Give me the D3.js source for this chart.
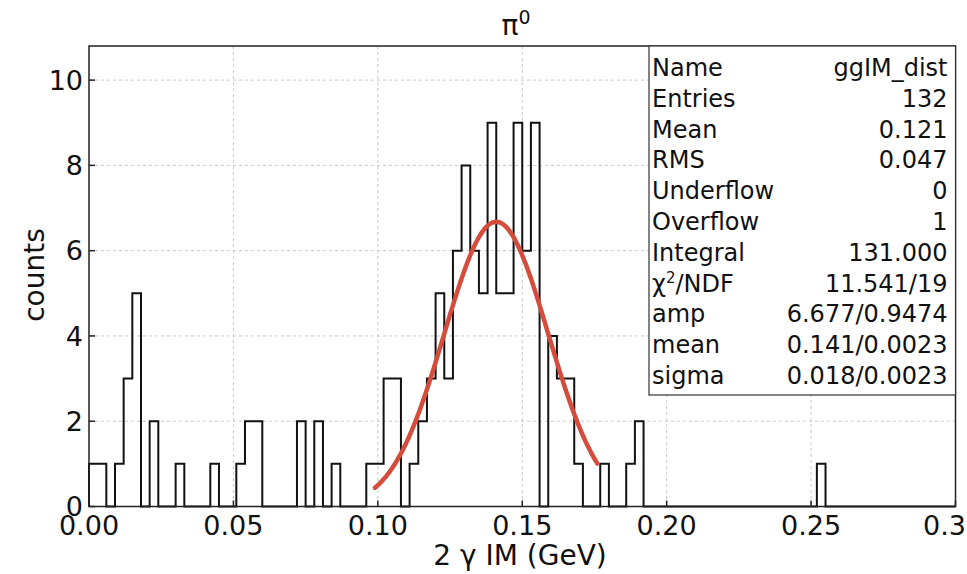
<!DOCTYPE html>
<html lang="en">
<head>
<meta charset="UTF-8">
<title>pi0 invariant mass</title>
<style>
  body { margin: 0; background: #fff; }
  text { font-family: "DejaVu Sans", sans-serif; fill: #111; }
</style>
</head>
<body>
<svg id="chart" width="967" height="574"></svg>

<script src="https://d3js.org/d3.v7.min.js"></script>
<script>
// histogram: 100 bins from 0 to 0.3
var histLo = 0, histHi = 0.3;
var counts = [
  1,1,0,1,3,5,0,2,0,0,
  1,0,0,0,1,0,0,1,2,2,
  0,0,0,0,2,0,2,0,1,0,
  0,0,1,1,3,3,0,1,2,3,
  5,3,6,8,6,5,9,5,5,9,
  6,9,0,4,3,3,1,0,0,1,
  0,0,1,2,0,0,0,0,0,0,
  0,0,0,0,0,0,0,0,0,0,
  0,0,0,0,1,0,0,0,0,0,
  0,0,0,0,0,0,0,0,0,0
];

var xTicks = [0, 0.05, 0.10, 0.15, 0.20, 0.25, 0.3];
var xTickLabels = ["0.00", "0.05", "0.10", "0.15", "0.20", "0.25", "0.3"];
var yTicks = [0, 2, 4, 6, 8, 10];

// gaussian fit
var fitAmp = 6.677, fitMean = 0.141, fitSigma = 0.018;
var fitRange = [0.099, 0.176];

var statNames = ["Name", "Entries", "Mean", "RMS", "Underflow", "Overflow",
  "Integral", "χ", "amp", "mean", "sigma"];
var statValues = ["ggIM_dist", "132", "0.121", "0.047", "0", "1",
  "131.000", "11.541/19", "6.677/0.9474", "0.141/0.0023", "0.018/0.0023"];

var svg = d3.select("#chart"),
  W = +svg.attr("width"),
  H = +svg.attr("height"),
  pL = 89, pR = 955.5, pT = 46, pB = 506.5;

var x = d3.scaleLinear().domain([histLo, histHi]).range([pL, pR]);
var y = d3.scaleLinear().domain([0, 10.8]).range([pB, pT]);

// grid
svg.append("g").selectAll("line")
  .data(xTicks.slice(1, -1)).enter().append("line")
  .attr("x1", function (d) { return x(d); }).attr("x2", function (d) { return x(d); })
  .attr("y1", pT).attr("y2", pB)
  .attr("stroke", "#c8c8c8").attr("stroke-dasharray", "3,3");
svg.append("g").selectAll("line")
  .data(yTicks.slice(1)).enter().append("line")
  .attr("x1", pL).attr("x2", pR)
  .attr("y1", function (d) { return y(d); }).attr("y2", function (d) { return y(d); })
  .attr("stroke", "#c8c8c8").attr("stroke-dasharray", "3,3");

// histogram outline
var bw = (histHi - histLo) / counts.length;
var pts = [[histLo, 0]];
counts.forEach(function (c, i) {
  pts.push([histLo + i * bw, c]);
  pts.push([histLo + (i + 1) * bw, c]);
});
pts.push([histHi, 0]);
var line = d3.line().x(function (d) { return x(d[0]); }).y(function (d) { return y(d[1]); });
svg.append("path").attr("d", line(pts))
  .attr("fill", "none").attr("stroke", "#111").attr("stroke-width", 2);

// fit curve
var fitPts = d3.range(fitRange[0], fitRange[1] + 1e-9, 0.0005).map(function (v) {
  return [v, fitAmp * Math.exp(-0.5 * Math.pow((v - fitMean) / fitSigma, 2))];
});
svg.append("path").attr("d", line.curve(d3.curveBasis)(fitPts))
  .attr("fill", "none").attr("stroke", "#d44c3c").attr("stroke-width", 4.5)
  .attr("stroke-linecap", "round");

// frame + ticks
svg.append("rect").attr("x", pL).attr("y", pT)
  .attr("width", pR - pL).attr("height", pB - pT)
  .attr("fill", "none").attr("stroke", "#222").attr("stroke-width", 1.5);
svg.append("g").selectAll("line")
  .data(yTicks).enter().append("line")
  .attr("x1", pL).attr("x2", pL + 6)
  .attr("y1", function (d) { return y(d); }).attr("y2", function (d) { return y(d); })
  .attr("stroke", "#222").attr("stroke-width", 1.5);
svg.append("g").selectAll("line")
  .data(xTicks).enter().append("line")
  .attr("x1", function (d) { return x(d); }).attr("x2", function (d) { return x(d); })
  .attr("y1", pB).attr("y2", pB - 6)
  .attr("stroke", "#222").attr("stroke-width", 1.5);

// tick labels
svg.append("g").selectAll("text")
  .data(yTicks).enter().append("text")
  .attr("x", pL - 6).attr("y", function (d) { return y(d); })
  .attr("dy", "0.36em").attr("text-anchor", "end")
  .style("font-size", "27px").text(function (d) { return d; });
svg.append("g").selectAll("text")
  .data(xTicks).enter().append("text")
  .attr("x", function (d, i) { return i == xTicks.length - 1 ? W - 1 : x(d); })
  .attr("y", 535)
  .attr("text-anchor", function (d, i) { return i == xTicks.length - 1 ? "end" : "middle"; })
  .style("font-size", "27px").text(function (d, i) { return xTickLabels[i]; });

// axis titles
svg.append("text").attr("x", 520).attr("y", 565).attr("text-anchor", "middle")
  .style("font-size", "28px").text("2 γ IM (GeV)");
svg.append("text").attr("transform", "translate(44,275) rotate(-90)")
  .attr("text-anchor", "middle").style("font-size", "28px").text("counts");
var title = svg.append("text").attr("x", 516).attr("y", 35).attr("text-anchor", "middle")
  .style("font-size", "28px");
title.append("tspan").text("π");
title.append("tspan").attr("dy", -11).style("font-size", "19px").text("0");

// stats box
var boxL = 649, boxB = 395;
svg.append("rect").attr("x", boxL).attr("y", pT)
  .attr("width", pR - boxL).attr("height", boxB - pT)
  .attr("fill", "#fff").attr("stroke", "#333").attr("stroke-width", 1.2);
var rowY = function (i) { return 76 + i * 30.8; };
var names = svg.append("g").selectAll("text")
  .data(statNames).enter().append("text")
  .attr("x", boxL + 3).attr("y", function (d, i) { return rowY(i); })
  .style("font-size", "24px").text(function (d) { return d; });
// chi2 label with superscript
var chi = names.filter(function (d) { return d == "χ"; });
chi.append("tspan").attr("dy", -9).style("font-size", "15px").text("2");
chi.append("tspan").attr("dy", 9).text("/NDF");
svg.append("g").selectAll("text")
  .data(statValues).enter().append("text")
  .attr("x", pR - 8).attr("y", function (d, i) { return rowY(i); })
  .attr("text-anchor", "end")
  .style("font-size", "24px").text(function (d) { return d; });
</script>
</body>
</html>
